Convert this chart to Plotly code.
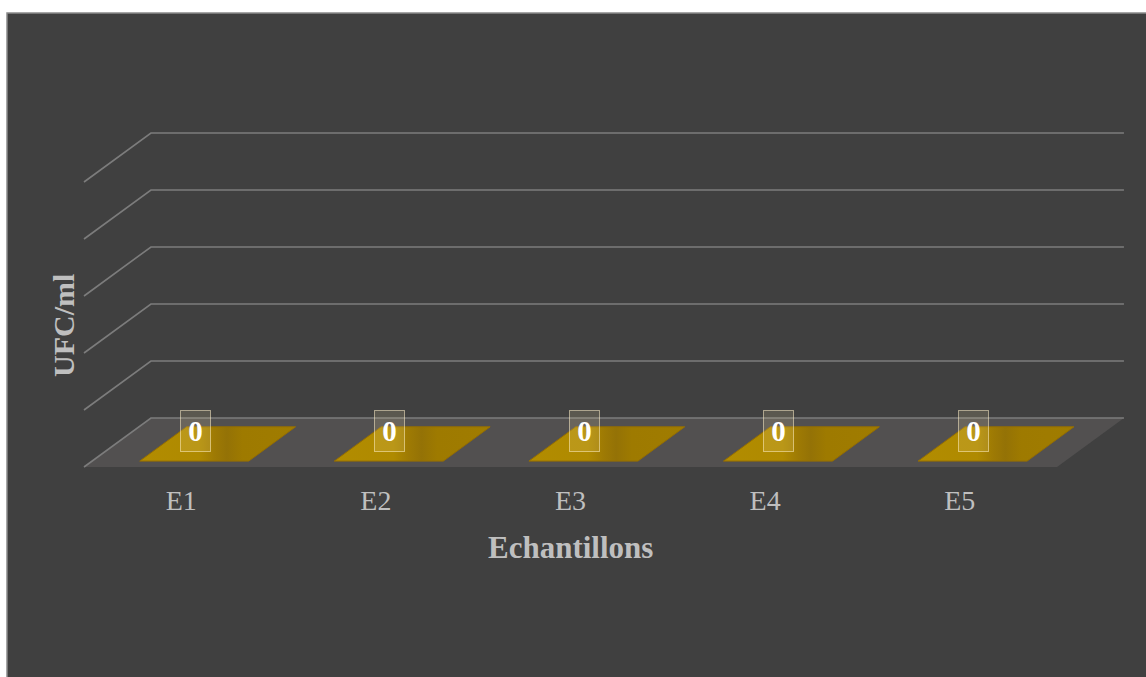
import plotly.graph_objects as go

# Data
categories = ["E1", "E2", "E3", "E4", "E5"]
values = [0, 0, 0, 0, 0]
value_ticks = [0, 0.2, 0.4, 0.6, 0.8, 1.0]
x_title = "Echantillons"
y_title = "UFC/ml"

# Oblique 3D projection: depth d in [0, 1] shifts a point right/up
DX = 0.344   # category units per full depth
DY = 0.172   # value units per full depth
BAR_HALF = 0.28
BAR_SHIFT = 0.025
BAR_D0, BAR_D1 = 0.12, 0.82

W, H = 1146, 677
PX_X = 194.6        # pixels per category
PX_Y = 285.0        # pixels per value unit
ORIGIN_PX = (84, 467)   # pixel of (x=-0.5, value=0, depth=0)

x_min = -0.5 - ORIGIN_PX[0] / PX_X
x_max = x_min + W / PX_X
y_max = ORIGIN_PX[1] / PX_Y
y_min = y_max - H / PX_Y

SERIF = "Liberation Serif, Times New Roman, serif"
BG = "#404040"
GRID = "#7c7c7c"
TEXT = "#bfbfbf"


def proj(x, v, d):
    return x + d * DX, v + d * DY


fig = go.Figure()

n = len(categories)
xl, xr = -0.5, n - 0.5

# Floor
fx, fy = zip(*[proj(xl, 0, 0), proj(xr, 0, 0), proj(xr, 0, 1), proj(xl, 0, 1), proj(xl, 0, 0)])
fig.add_trace(go.Scatter(x=fx, y=fy, fill="toself", fillcolor="#525050",
                         line=dict(width=0), mode="lines", hoverinfo="skip"))

# Gridlines on back wall and side wall
for v in value_ticks:
    p0 = proj(xl, v, 0)
    p1 = proj(xl, v, 1)
    p2 = proj(xr, v, 1)
    fig.add_trace(go.Scatter(x=[p0[0], p1[0], p2[0]], y=[p0[1], p1[1], p2[1]],
                             mode="lines", line=dict(color=GRID, width=1.6),
                             hoverinfo="skip"))

# Bars
bar_scale = [[0.0, "rgb(178,140,0)"], [0.38, "rgb(175,138,0)"],
             [0.48, "rgb(158,122,4)"], [0.56, "rgb(148,114,6)"],
             [0.66, "rgb(158,122,0)"], [1.0, "rgb(160,124,0)"]]
for i, (cat, val) in enumerate(zip(categories, values)):
    cx = i + BAR_SHIFT
    a = proj(cx - BAR_HALF, val, BAR_D0)
    b = proj(cx + BAR_HALF, val, BAR_D0)
    c = proj(cx + BAR_HALF, val, BAR_D1)
    d = proj(cx - BAR_HALF, val, BAR_D1)
    if val > 0:
        a0 = proj(cx - BAR_HALF, 0, BAR_D0)
        b0 = proj(cx + BAR_HALF, 0, BAR_D0)
        c0 = proj(cx + BAR_HALF, 0, BAR_D1)
        fig.add_trace(go.Scatter(x=[b0[0], c0[0], c[0], b[0], b0[0]],
                                 y=[b0[1], c0[1], c[1], b[1], b0[1]],
                                 fill="toself", fillcolor="rgb(120,93,0)",
                                 line=dict(width=0), mode="lines", hoverinfo="skip"))
        fig.add_trace(go.Scatter(x=[a0[0], b0[0], b[0], a[0], a0[0]],
                                 y=[a0[1], b0[1], b[1], a[1], a0[1]],
                                 fill="toself", fillcolor="rgb(160,124,0)",
                                 line=dict(width=0), mode="lines", hoverinfo="skip"))
    fig.add_trace(go.Scatter(x=[a[0], b[0], c[0], d[0], a[0]],
                             y=[a[1], b[1], c[1], d[1], a[1]],
                             fill="toself",
                             fillgradient=dict(type="horizontal", colorscale=bar_scale),
                             line=dict(color="rgb(150,110,0)", width=1),
                             mode="lines", hoverinfo="skip"))
    # Value label
    lx, ly = proj(i, val, BAR_D0)
    fig.add_annotation(x=lx + 0.03, y=ly, xref="x", yref="y", text=f"<b>{val}</b>",
                       showarrow=False, yanchor="bottom", yshift=9,
                       font=dict(family=SERIF, size=29, color="white"),
                       bgcolor="rgba(255,235,170,0.14)",
                       bordercolor="rgba(255,240,200,0.55)", borderwidth=1,
                       borderpad=0, width=29, height=40)

# Category labels
fig.add_trace(go.Scatter(x=list(range(n)), y=[-36 / PX_Y] * n, text=categories,
                         mode="text", textposition="middle center",
                         textfont=dict(family=SERIF, size=28, color=TEXT),
                         hoverinfo="skip"))

# Axis titles
fig.add_annotation(x=(n - 1) / 2, y=-80 / PX_Y, xref="x", yref="y",
                   text=f"<b>{x_title}</b>", showarrow=False,
                   font=dict(family=SERIF, size=31, color=TEXT))
fig.add_annotation(x=x_min + 64 / PX_X, y=0.495, xref="x", yref="y",
                   text=f"<b>{y_title}</b>", showarrow=False, textangle=-90,
                   font=dict(family=SERIF, size=30, color=TEXT))

# Chart area frame
fig.add_shape(type="rect", xref="paper", yref="paper", layer="below",
              x0=7 / W, x1=1 + 5 / W, y0=-5 / H, y1=1 - 13 / H,
              fillcolor=BG, line=dict(color="#8a8a8a", width=1.5))

fig.update_layout(
    width=W, height=H,
    margin=dict(l=0, r=0, t=0, b=0),
    paper_bgcolor="white", plot_bgcolor="rgba(0,0,0,0)",
    showlegend=False,
    xaxis=dict(range=[x_min, x_max], visible=False, fixedrange=True),
    yaxis=dict(range=[y_min, y_max], visible=False, fixedrange=True),
)

fig.write_html("out.html", config={"displayModeBar": False})
